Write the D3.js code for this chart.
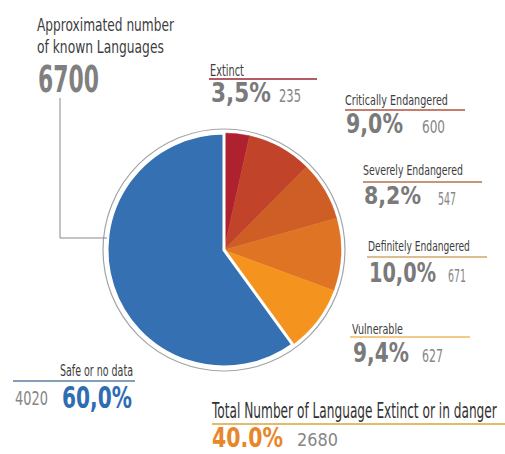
<!DOCTYPE html>
<html>
<head>
<meta charset="utf-8">
<script src="https://cdn.jsdelivr.net/npm/d3@7"></script>
<style>
  body { margin: 0; background: #fff; }
  svg text { font-family: "DejaVu Sans", sans-serif; }
</style>
</head>
<body>
<svg id="chart" width="505" height="454"></svg>
<script>
// data
const categories = ["Extinct", "Critically Endangered", "Severely Endangered", "Definitely Endangered", "Vulnerable", "Safe or no data"];
const counts = [235, 600, 547, 671, 627, 4020];
const shares = ["3,5%", "9,0%", "8,2%", "10,0%", "9,4%", "60,0%"];
const totalLanguages = 6700;
const dangerCount = 2680;
const dangerShare = "40.0%";

const sliceColors = ["#b0212f", "#c0432a", "#cf5e26", "#de7424", "#f5931f", "#3570b2"];
const ruleColors = ["#9b2430", "#b5523e", "#b87048", "#d4a66a", "#f0b860", "#5a7fa0"];

// where each danger label sits (the reference uses a condensed face, so widths are squeezed)
const labelLayout = [
  { x: 210, y: 76, w: 34, rule: [209, 317, 79], py: 102, pw: 60, ps: 26, nx: 279, ny: 102, nw: 22 },
  { x: 345, y: 105, w: 103, rule: [345, 465, 110], py: 133, pw: 57, ps: 26, nx: 422, ny: 133, nw: 23 },
  { x: 363, y: 175, w: 100, rule: [363, 482, 182], py: 204, pw: 57, ps: 25, nx: 438, ny: 205, nw: 18 },
  { x: 368, y: 251, w: 102, rule: [367, 487, 257], py: 282, pw: 67, ps: 27, nx: 448, ny: 282, nw: 18 },
  { x: 352, y: 334, w: 51, rule: [350, 470, 337], py: 362, pw: 56, ps: 27, nx: 422, ny: 362, nw: 21 },
];

// text squeezed horizontally to a given width
function txt(svg, x, y, str, size, width, fill, bold) {
  const g = svg.append("g");
  const t = g.append("text")
    .attr("font-size", size)
    .attr("fill", fill)
    .text(str);
  if (bold) t.attr("font-weight", "bold");
  const k = width / t.node().getComputedTextLength();
  g.attr("transform", `translate(${x},${y}) scale(${k},1)`);
  return t;
}

function init() {
  const svg = d3.select("#chart");
  const cx = 224, cy = 250, r = 117;

  // outer thin ring
  svg.append("circle")
    .attr("cx", cx).attr("cy", cy).attr("r", r + 4)
    .attr("fill", "none").attr("stroke", "#a0a4a8").attr("stroke-width", 1.2);

  const pie = d3.pie().sort(null).value(d => d);
  const arc = d3.arc().innerRadius(0).outerRadius(r);
  const arcs = pie(counts);

  const g = svg.append("g").attr("transform", `translate(${cx},${cy})`);
  g.selectAll("path")
    .data(arcs)
    .join("path")
    .attr("d", arc)
    .attr("fill", (d, i) => sliceColors[i])
    .attr("stroke", (d, i) => i === 5 ? "#fff" : sliceColors[i])
    .attr("stroke-width", (d, i) => i === 5 ? 3 : 0.5);

  // intro text
  txt(svg, 37, 31, "Approximated number", 18.5, 137, "#3d3d3d");
  txt(svg, 37, 53, "of known Languages", 18.5, 127, "#3d3d3d");
  txt(svg, 38, 92, d3.format("d")(totalLanguages), 37, 61, "#808080", true);

  // leader from the total to the pie
  svg.append("path")
    .attr("d", d3.line()([[60, 98], [60, 238], [cx - r, 238]]))
    .attr("fill", "none").attr("stroke", "#888").attr("stroke-width", 1);

  // danger categories
  labelLayout.forEach((p, i) => {
    txt(svg, p.x, p.y, categories[i], i === 0 ? 16 : 14, p.w, "#3d3d3d");
    svg.append("line")
      .attr("x1", p.rule[0]).attr("x2", p.rule[1])
      .attr("y1", p.rule[2]).attr("y2", p.rule[2])
      .attr("stroke", ruleColors[i]).attr("stroke-width", 1.5);
    txt(svg, p.x + 1, p.py, shares[i], p.ps, p.pw, "#7a7a7a", true);
    txt(svg, p.nx, p.ny, counts[i], 18, p.nw, "#868686");
  });

  // safe
  txt(svg, 60, 376, categories[5], 15, 73, "#3d3d3d");
  svg.append("line").attr("x1", 13).attr("x2", 135).attr("y1", 381).attr("y2", 381)
    .attr("stroke", ruleColors[5]).attr("stroke-width", 1.5);
  txt(svg, 15, 405, counts[5], 19, 33, "#868686");
  txt(svg, 62, 408, shares[5], 31, 70, "#2f6db3", true);

  // total in danger
  txt(svg, 212, 418, "Total Number of Language Extinct or in danger", 20.5, 285, "#333");
  svg.append("line").attr("x1", 212).attr("x2", 505).attr("y1", 424).attr("y2", 424)
    .attr("stroke", "#d9a53a").attr("stroke-width", 1.5);
  txt(svg, 212, 447, dangerShare, 26, 71, "#e8862a", true);
  txt(svg, 297, 446, dangerCount, 18, 41, "#868686");
}

window.onload = init;
</script>
</body>
</html>
